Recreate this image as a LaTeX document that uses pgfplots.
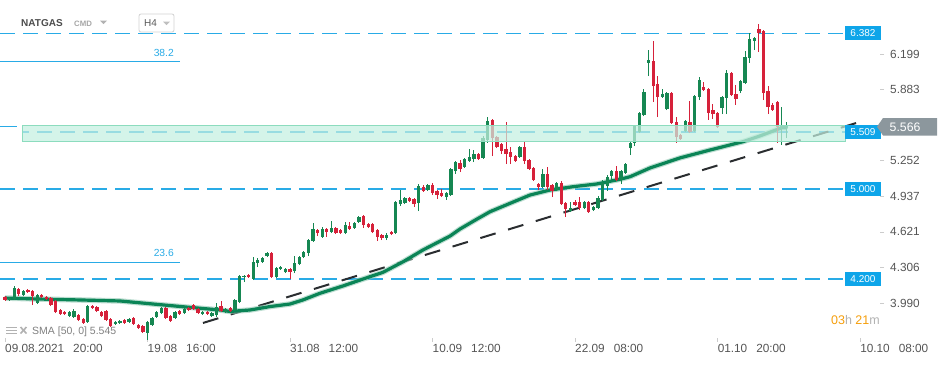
\documentclass[border=0pt]{standalone}
\usepackage{pgfplots}
\pgfplotsset{compat=1.18}
\usepackage{pgfplotstable}
\usepackage{fontspec}
\setmainfont{Liberation Sans}
\definecolor{upc}{RGB}{22,135,82}
\definecolor{dnc}{RGB}{214,33,58}
\definecolor{smac}{RGB}{10,132,86}
\definecolor{lvl}{RGB}{41,171,230}
\definecolor{tagb}{RGB}{14,165,233}
\definecolor{zonef}{RGB}{196,240,224}
\definecolor{zoned}{RGB}{140,220,190}
\definecolor{tagg}{RGB}{140,151,157}
\definecolor{lbl}{RGB}{85,85,85}
\definecolor{orng}{RGB}{245,158,11}
\definecolor{trend}{RGB}{42,45,48}

% green (rising) candles: index, open, high, low, close
\pgfplotstableread{
i o h l c
1 4.017 4.043 4.008 4.034
2 4.025 4.141 4.017 4.123
4 4.061 4.105 4.052 4.096
7 3.990 4.070 3.981 4.061
14 3.875 3.919 3.866 3.910
15 3.866 3.937 3.857 3.919
18 3.821 3.972 3.813 3.963
24 3.804 3.830 3.795 3.821
25 3.813 3.839 3.804 3.830
27 3.821 3.857 3.813 3.848
31 3.724 3.830 3.662 3.821
32 3.795 3.866 3.786 3.857
33 3.866 3.919 3.857 3.910
34 3.901 3.954 3.892 3.946
37 3.857 3.919 3.848 3.910
39 3.901 3.946 3.892 3.937
43 3.892 3.919 3.884 3.910
45 3.875 3.910 3.866 3.901
46 3.884 3.990 3.866 3.954
48 3.910 3.946 3.901 3.937
50 3.928 4.025 3.919 4.017
51 3.999 4.238 3.990 4.230
52 4.221 4.238 4.176 4.230
54 4.203 4.398 4.194 4.354
55 4.345 4.389 4.309 4.372
56 4.354 4.398 4.345 4.389
57 4.407 4.443 4.398 4.434
59 4.221 4.309 4.212 4.301
60 4.292 4.318 4.283 4.309
61 4.265 4.301 4.256 4.292
63 4.274 4.407 4.256 4.345
64 4.336 4.407 4.327 4.398
65 4.398 4.451 4.389 4.443
66 4.434 4.558 4.407 4.549
67 4.540 4.700 4.531 4.647
69 4.576 4.664 4.567 4.647
71 4.620 4.718 4.611 4.655
74 4.611 4.709 4.602 4.682
76 4.655 4.709 4.647 4.700
77 4.709 4.762 4.700 4.753
83 4.567 4.611 4.549 4.593
85 4.611 4.895 4.602 4.886
86 4.868 4.993 4.851 4.904
87 4.877 4.930 4.868 4.922
90 4.877 5.046 4.806 5.028
92 4.993 5.046 4.984 5.037
96 4.930 4.975 4.904 4.966
97 4.948 5.188 4.939 5.179
98 5.161 5.250 5.135 5.241
100 5.197 5.277 5.188 5.268
101 5.250 5.357 5.241 5.286
102 5.268 5.348 5.241 5.312
104 5.277 5.472 5.268 5.454
105 5.436 5.640 5.410 5.605
112 5.286 5.383 5.277 5.374
117 5.019 5.179 5.010 5.135
120 4.993 5.064 4.984 5.055
123 4.806 4.886 4.797 4.833
126 4.833 4.895 4.824 4.886
128 4.815 4.851 4.806 4.842
129 4.833 4.939 4.824 4.922
130 4.904 5.081 4.895 5.055
131 5.028 5.126 4.984 5.108
132 5.117 5.170 5.081 5.161
134 5.081 5.170 5.046 5.161
135 5.144 5.232 5.135 5.223
136 5.365 5.419 5.303 5.410
137 5.410 5.569 5.383 5.569
138 5.507 5.685 5.498 5.676
139 5.658 5.889 5.649 5.862
140 6.120 6.235 6.004 6.146
143 5.818 5.889 5.809 5.844
144 5.711 5.862 5.702 5.853
148 5.516 5.614 5.507 5.605
150 5.516 5.836 5.507 5.827
151 5.818 5.995 5.791 5.969
156 5.720 5.827 5.667 5.818
157 5.809 6.057 5.667 6.031
160 5.871 5.969 5.853 5.960
161 5.942 6.226 5.933 6.173
162 6.164 6.386 6.120 6.333
163 6.315 6.350 6.235 6.341
169 5.552 5.729 5.392 5.569
170 5.552 5.596 5.454 5.566
}\up

% red (falling) candles: index, open, high, low, close
\pgfplotstableread{
i o h l c
0 4.043 4.052 4.008 4.017
3 4.114 4.123 4.052 4.070
5 4.105 4.114 4.079 4.088
6 4.096 4.105 3.972 4.052
8 4.061 4.070 4.034 4.043
9 4.043 4.052 4.017 4.025
10 4.034 4.043 3.963 3.972
11 4.008 4.017 3.901 3.910
12 3.928 3.937 3.884 3.892
13 3.910 3.919 3.884 3.892
16 3.884 3.892 3.830 3.839
17 3.848 3.857 3.804 3.813
19 3.963 3.972 3.937 3.946
20 3.954 3.963 3.910 3.919
21 3.910 3.919 3.866 3.875
22 3.919 3.928 3.830 3.839
23 3.848 3.857 3.777 3.786
26 3.839 3.848 3.804 3.813
28 3.857 3.866 3.795 3.804
29 3.795 3.804 3.760 3.768
30 3.786 3.795 3.724 3.733
35 3.946 3.954 3.848 3.857
36 3.875 3.884 3.821 3.830
38 3.919 3.928 3.884 3.892
40 3.946 3.954 3.919 3.928
41 3.972 3.981 3.928 3.937
42 3.937 3.946 3.892 3.901
44 3.910 3.919 3.884 3.892
47 3.963 4.008 3.910 3.919
49 3.946 3.954 3.910 3.919
53 4.238 4.247 4.212 4.221
58 4.434 4.443 4.212 4.221
62 4.292 4.301 4.203 4.265
68 4.638 4.647 4.584 4.611
70 4.647 4.655 4.576 4.620
72 4.655 4.664 4.602 4.611
73 4.638 4.647 4.602 4.611
75 4.673 4.709 4.638 4.647
78 4.762 4.771 4.655 4.682
79 4.691 4.700 4.655 4.664
80 4.691 4.700 4.611 4.620
81 4.638 4.647 4.540 4.576
82 4.593 4.602 4.549 4.567
84 4.620 4.629 4.593 4.602
88 4.922 4.930 4.886 4.895
89 4.913 4.922 4.842 4.868
91 5.019 5.037 4.975 4.984
93 5.037 5.055 4.948 4.966
94 4.984 4.993 4.913 4.948
95 4.966 5.001 4.930 4.939
99 5.232 5.259 5.152 5.179
103 5.312 5.321 5.259 5.268
106 5.614 5.623 5.294 5.454
107 5.463 5.472 5.365 5.374
108 5.401 5.410 5.312 5.339
109 5.357 5.596 5.223 5.312
110 5.330 5.374 5.223 5.286
111 5.294 5.303 5.241 5.250
113 5.374 5.419 5.223 5.250
114 5.259 5.268 5.170 5.179
115 5.188 5.197 5.072 5.081
116 5.046 5.055 4.993 5.019
118 5.135 5.197 4.993 5.019
119 5.037 5.046 4.930 4.984
121 5.055 5.072 4.860 4.868
122 4.877 4.886 4.753 4.824
124 4.886 4.904 4.851 4.860
125 4.886 4.930 4.815 4.833
127 4.886 4.895 4.789 4.797
133 5.161 5.206 5.072 5.081
141 6.137 6.315 5.773 5.915
142 5.933 6.004 5.640 5.818
145 5.853 5.862 5.578 5.587
146 5.596 5.640 5.410 5.463
147 5.481 5.490 5.436 5.445
149 5.596 5.782 5.498 5.507
152 5.907 5.951 5.871 5.880
153 5.889 5.898 5.614 5.676
154 5.702 5.756 5.623 5.667
155 5.676 5.685 5.543 5.552
158 6.031 6.040 5.827 5.836
159 5.844 5.924 5.747 5.800
164 6.421 6.466 6.217 6.386
165 6.403 6.412 5.791 5.853
166 5.871 5.915 5.667 5.729
167 5.747 5.765 5.694 5.702
168 5.773 5.782 5.410 5.552
}\dn

% SMA(50)
\pgfplotstableread{
i v
0 4.034
7.6 4.025
16.3 4.017
25.0 4.008
32.2 3.981
39.5 3.954
46.8 3.928
48.9 3.915
53.3 3.928
57.6 3.958
62.0 3.981
64.8 4.017
68.5 4.076
73.5 4.141
77.9 4.203
82.2 4.262
86.6 4.356
90.9 4.460
96.8 4.584
99.0 4.647
102.6 4.733
105.5 4.800
109.9 4.875
114.2 4.948
118.6 4.993
123.6 5.022
128.7 5.046
133.8 5.088
136.0 5.111
140.3 5.188
146.8 5.277
153.4 5.348
160.5 5.421
164.2 5.472
169.0 5.545
170.0 5.545
}\sma

\begin{document}
\begin{tikzpicture}
\useasboundingbox (0pt,0pt) rectangle (950pt,-365pt);
\begin{axis}[
  at={(0pt,0pt)}, anchor=north west,
  scale only axis, width=880pt, height=338pt,
  xmin=-1.088, xmax=190.34, ymin=3.6794, ymax=6.6785,
  axis x line*=bottom, axis y line*=right,
  axis line style={draw=none},
  tick align=outside, major tick length=4pt,
  tick style={color=black!20, line width=0.6pt},
  xtick={0,31,62,93,124,155,186},
  xticklabels={09.08.2021\hspace{9pt}20:00, 19.08\hspace{9pt}16:00, 31.08\hspace{9pt}12:00, 10.09\hspace{9pt}12:00, 22.09\hspace{9pt}08:00, 01.10\hspace{9pt}20:00, 10.10\hspace{9pt}08:00},
  xticklabel style={anchor=north west, inner sep=0pt, xshift=0pt, yshift=-2pt, font=\fontsize{11.8}{13}\selectfont, text=lbl},
  ytick={3.990,4.306,4.621,4.937,5.252,5.883,6.199},
  yticklabels={3.990,4.306,4.621,4.937,5.252,5.883,6.199},
  extra y ticks={3.674},
  extra y tick labels={3.674},
  extra y tick style={major tick length=0pt, yticklabel style={yshift=3pt}},
  yticklabel style={anchor=west, inner sep=0pt, font=\fontsize{11.8}{13}\selectfont, text=lbl},
  yticklabel shift=6pt,
  clip=false,
  candle/.style={draw=none, mark=none, forget plot, error bars/.cd, y dir=plus, y explicit, error mark=none},
]
% Fibonacci levels
\addplot[color=lvl, line width=1pt, mark=none] coordinates {(-1.088,6.131) (38.07,6.131)};
\addplot[color=lvl, line width=1pt, mark=none] coordinates {(-1.088,4.350) (38.07,4.350)};
% horizontal dashed levels
\addplot[color=lvl, line width=1.8pt, mark=none, dash pattern=on 15pt off 8pt] coordinates {(-1.088,6.382) (182.73,6.382)};
\addplot[color=lvl, line width=1.8pt, mark=none, dash pattern=on 15pt off 8pt] coordinates {(-1.088,5.000) (182.73,5.000)};
\addplot[color=lvl, line width=1.8pt, mark=none, dash pattern=on 15pt off 8pt] coordinates {(-1.088,4.200) (182.73,4.200)};
\addplot[color=lvl, line width=1.8pt, mark=none, dash pattern=on 15pt off 8pt, dash phase=8pt] coordinates {(3.70,5.509) (182.73,5.509)};
\addplot[color=lvl, line width=1pt, mark=none] coordinates {(-1.088,5.552) (2.6,5.552)};
% trend line
\addplot[color=trend, line width=2pt, mark=none, dash pattern=on 16pt off 13pt] coordinates {(43.07,3.813) (186.6,5.605)};
% SMA 50
\addplot[color=smac!45, line width=5.5pt, mark=none, opacity=0.6, line join=round] table[x=i, y=v] {\sma};
\addplot[color=smac, line width=3.2pt, mark=none, line join=round, line cap=round] table[x=i, y=v] {\sma};
% wicks
\addplot[candle, error bar style={draw=upc, line width=1pt}]
  table[x=i, y=l, y error plus expr=\thisrow{h}-\thisrow{l}] {\up};
\addplot[candle, error bar style={draw=dnc, line width=1pt}]
  table[x=i, y=l, y error plus expr=\thisrow{h}-\thisrow{l}] {\dn};
% bodies
\addplot[candle, error bar style={draw=upc, line width=3.3pt}]
  table[x=i, y=o, y error plus expr=\thisrow{c}-\thisrow{o}] {\up};
\addplot[candle, error bar style={draw=dnc, line width=3.3pt}]
  table[x=i, y=c, y error plus expr=\thisrow{o}-\thisrow{c}] {\dn};
% support zone
\addplot[draw=zoned, line width=1pt, mark=none, fill=zonef, fill opacity=0.72] coordinates {(3.70,5.427) (182.73,5.427) (182.73,5.561) (3.70,5.561)} -- cycle;
\end{axis}

% level tags
\foreach \yy/\tx in {33.4/6.382, 131.8/5.509, 189.2/5.000, 279.3/4.200}{
  \fill[tagb] (845pt,-\yy pt+7pt) rectangle (881pt,-\yy pt-7pt);
  \node[text=white, font=\fontsize{10}{11}\selectfont, inner sep=0pt] at (863pt,-\yy pt) {\tx};
}
% current price tag
\fill[tagg] (877pt,-126.7pt) -- (883pt,-118pt) -- (937pt,-118pt) -- (937pt,-135.5pt) -- (883pt,-135.5pt) -- cycle;
\node[text=white, font=\fontsize{12.3}{13}\selectfont, anchor=west, inner sep=0pt] at (889.5pt,-126.8pt) {5.566};

% fib labels
\node[text=lvl, font=\fontsize{10.3}{11}\selectfont, anchor=east, inner sep=0pt] at (174pt,-53pt) {38.2};
\node[text=lvl, font=\fontsize{10.3}{11}\selectfont, anchor=east, inner sep=0pt] at (174pt,-253pt) {23.6};

% header
\node[text=black!70, font=\bfseries\fontsize{10}{11}\selectfont, anchor=west, inner sep=0pt] at (21pt,-23pt) {NATGAS};
\node[text=black!35, font=\bfseries\fontsize{7.8}{9}\selectfont, anchor=west, inner sep=0pt] at (74pt,-24pt) {CMD};
\fill[black!30] (100pt,-20.5pt) -- (107pt,-20.5pt) -- (103.5pt,-24pt) -- cycle;
\draw[black!18, line width=0.8pt, rounded corners=2pt] (139pt,-14pt) rectangle (174pt,-32pt);
\node[text=black!65, font=\fontsize{10}{11}\selectfont, anchor=west, inner sep=0pt] at (144pt,-23.5pt) {H4};
\fill[black!25] (163pt,-21.5pt) -- (170pt,-21.5pt) -- (166.5pt,-25pt) -- cycle;

% SMA legend
\fill[black!30] (6pt,-326.5pt) rectangle (16.5pt,-328pt);
\fill[black!30] (6pt,-329.5pt) rectangle (16.5pt,-331pt);
\fill[black!30] (6pt,-332.5pt) rectangle (16.5pt,-334pt);
\draw[black!30, line width=1.6pt] (20.5pt,-327pt) -- (26.5pt,-333.5pt) (20.5pt,-333.5pt) -- (26.5pt,-327pt);
\node[text=black!50, font=\fontsize{10.5}{12}\selectfont, anchor=west, inner sep=0pt] at (32pt,-332pt) {SMA [50, 0] 5.545};

% countdown
\node[font=\fontsize{12.5}{14}\selectfont, anchor=east, inner sep=0pt] at (880pt,-320pt) {\textcolor{orng}{03}\textcolor{black!30}{h} \textcolor{orng}{21}\textcolor{black!30}{m}};
\end{tikzpicture}
\end{document}
